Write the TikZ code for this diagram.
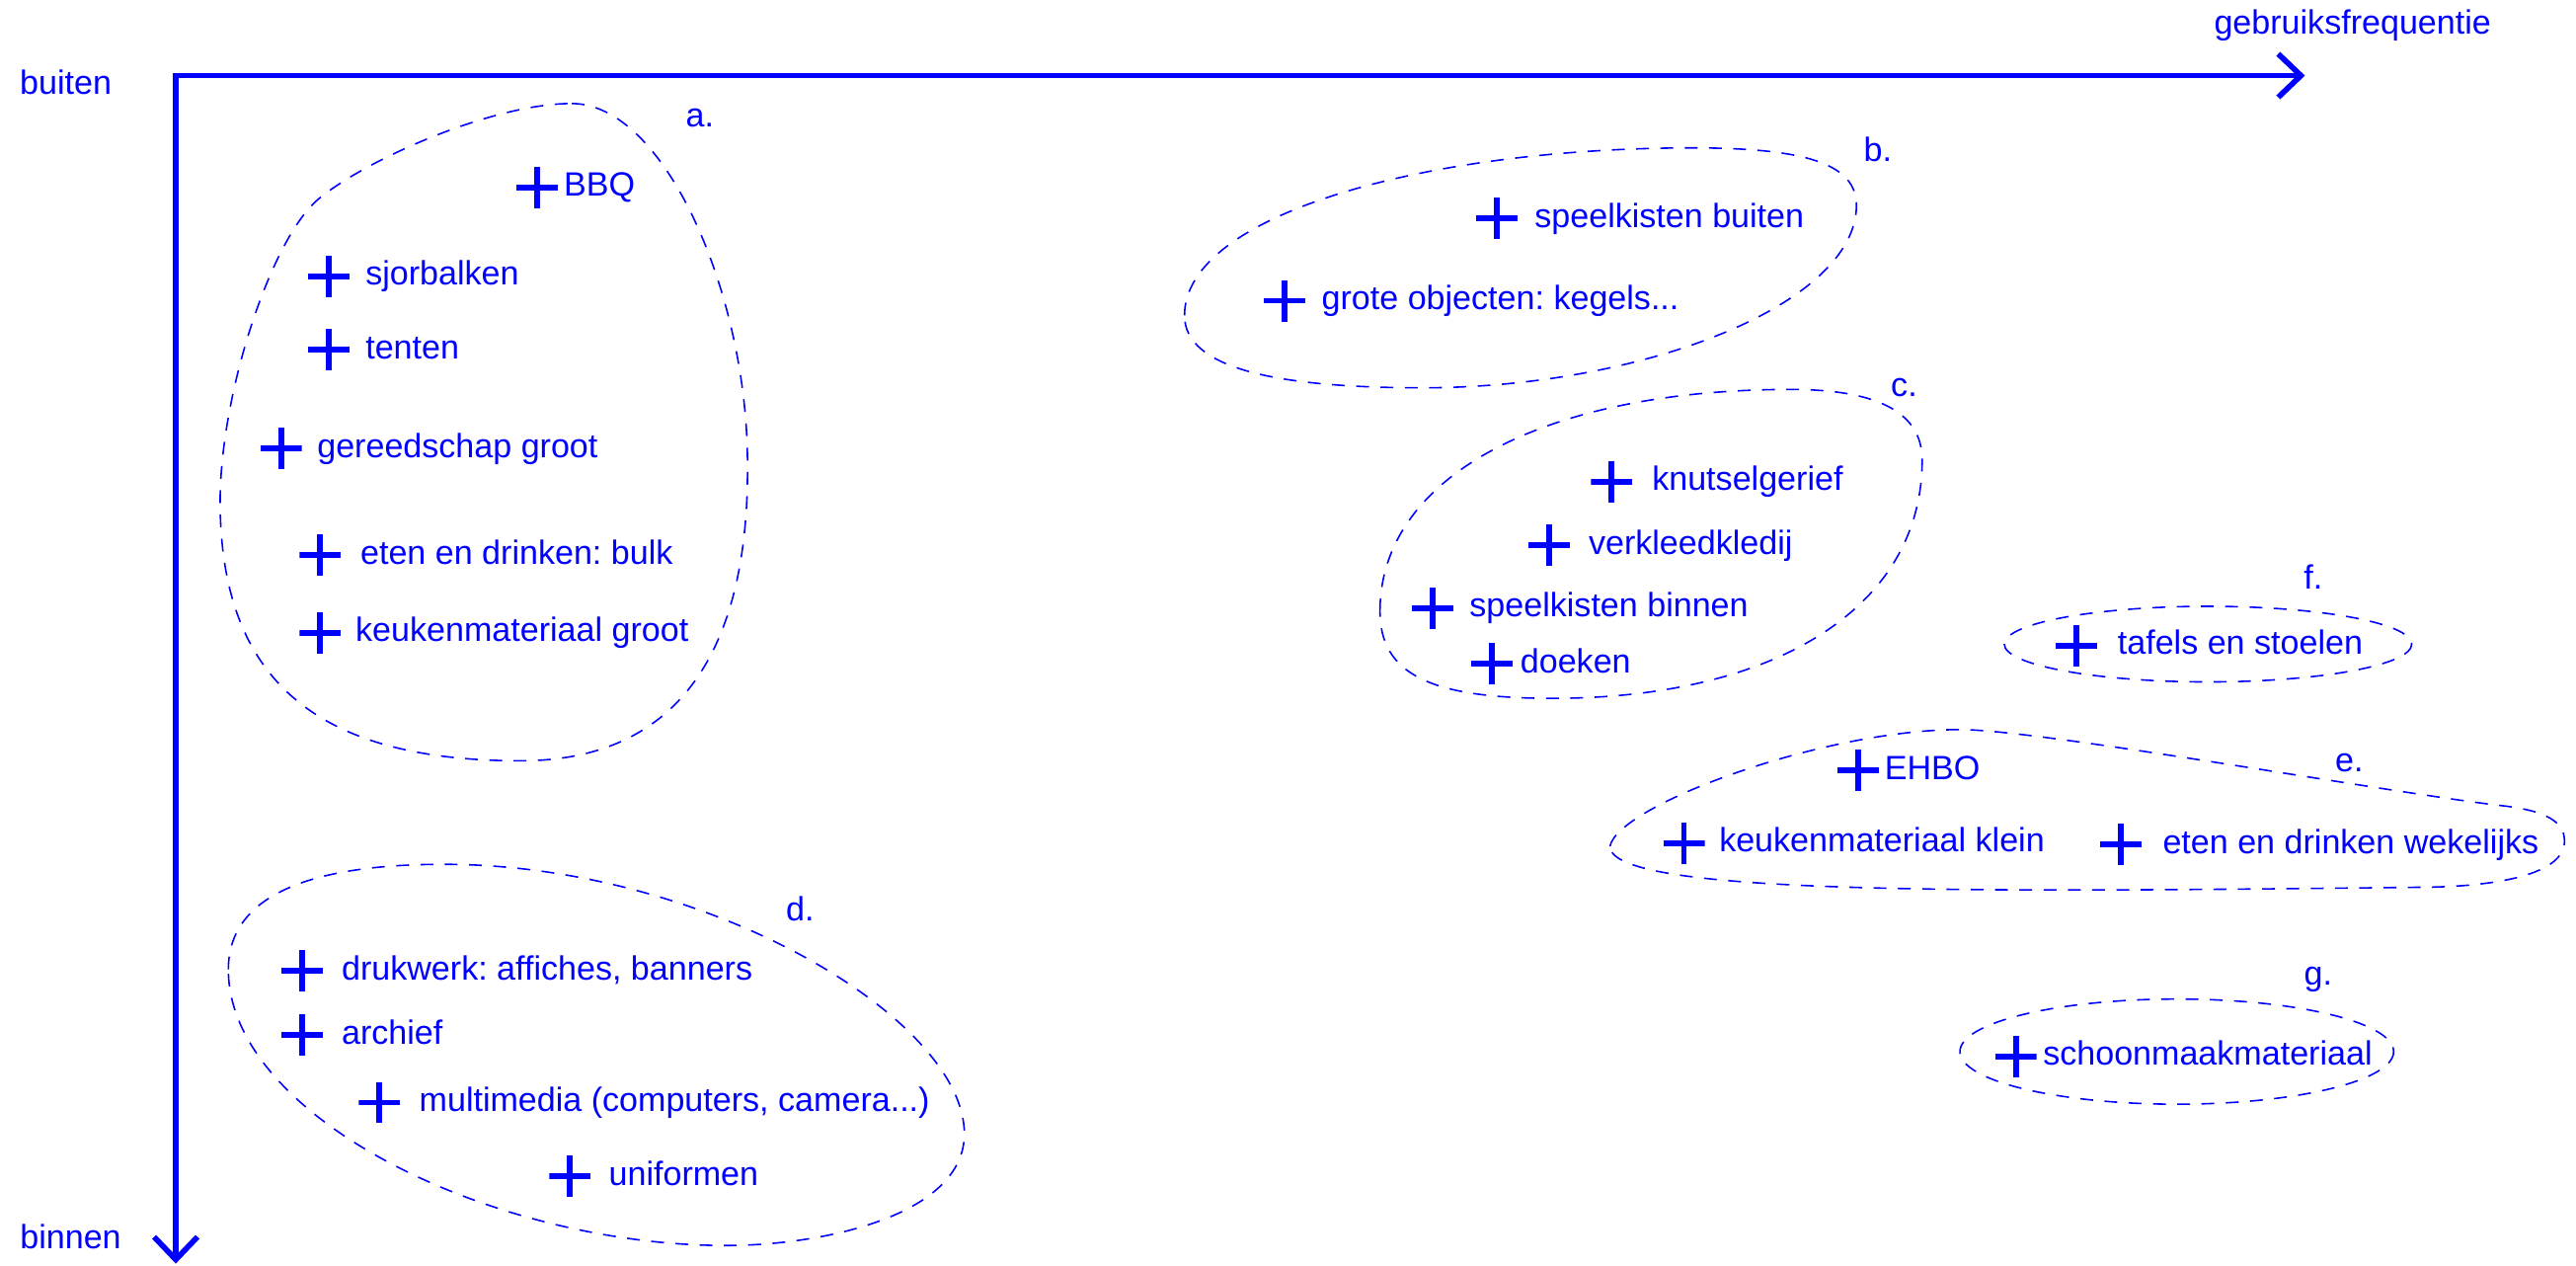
\documentclass[tikz,border=0pt]{standalone}
\usepackage{fontspec}
\setmainfont{Liberation Sans}
\usetikzlibrary{arrows.meta}
\definecolor{inkblue}{RGB}{0,0,255}
\tikzset{
	txt/.style={font=\fontsize{9.7}{11.6}\selectfont\frenchspacing,text=inkblue},
	plus/.style={inner sep=0pt,minimum size=4.2mm,path picture={\draw[inkblue,line width=1.7pt] (path picture bounding box.north) -- (path picture bounding box.south) (path picture bounding box.west) -- (path picture bounding box.east);}},
	item/.style 2 args={plus,label={[txt,inner sep=0pt,text height=0.7em,text depth=0.2em,label distance=#1]right:{#2}}},
	blob/.style={draw=inkblue,line width=0.45pt,dash pattern=on 3.7pt off 3.3pt},
	axisline/.style={draw=inkblue,line width=1.6pt,{Straight Barb[length=2.3mm,width=4.4mm]}-{Straight Barb[length=2.3mm,width=4.4mm]}}
}

\begin{document}
\begin{tikzpicture}[x=0.01664cm,y=-0.01664cm]%[scale=1.5]
	\useasboundingbox (0,0) rectangle (1568,770);
	\coordinate (freq) at (1403,46);
	\coordinate (hoek) at (107,46);
	\coordinate (onder) at (107,769);
	\draw[axisline] (freq) -- (hoek) -- (onder);
	\node[txt,anchor=base] (buiten) at (40,57.5) {buiten};
	\node[txt,anchor=base] (binnen) at (43,760) {binnen};
	\node[txt,anchor=base] (gebruik) at (1432,21) {gebruiksfrequentie};

	% a.
	\draw[blob] (348,63) .. controls (405,63) and (455,180) .. (455,282)
		.. controls (456,400) and (410,463) .. (317,463)
		.. controls (200,463) and (134,420) .. (134,305)
		.. controls (134,240) and (165,145) .. (194,121)
		.. controls (223,97) and (300,63) .. (348,63);
	\node[txt] (ga) at (426,72) {a.};
	\node[item={1.3pt}{BBQ}] (bbq) at (327,114) {};
	\node[item={4.3pt}{sjorbalken}] (sjorbalken) at (200,168) {};
	\node[item={4.3pt}{tenten}] (tenten) at (200,213) {};
	\node[item={4.1pt}{gereedschap groot}] (gereedschap) at (171,273) {};
	\node[item={5.2pt}{eten en drinken: bulk}] (bulk) at (195,338) {};
	\node[item={3.8pt}{keukenmateriaal groot}] (keukengroot) at (195,385) {};

	% b.
	\draw[blob] (721,192) .. controls (721,130) and (870,90) .. (1030,90)
		.. controls (1100,90) and (1130,100) .. (1130,125)
		.. controls (1130,185) and (1000,236) .. (866,236)
		.. controls (780,236) and (721,225) .. (721,192);
	\node[txt] (gb) at (1143,91) {b.};
	\node[item={4.6pt}{speelkisten buiten}] (kistenbuiten) at (911,133) {};
	\node[item={4.3pt}{grote objecten: kegels...}] (objecten) at (782,183) {};

	% c.
	\draw[blob] (840,372) .. controls (840,290) and (940,237) .. (1090,237)
		.. controls (1150,237) and (1170,255) .. (1170,280)
		.. controls (1170,370) and (1080,425) .. (945,425)
		.. controls (870,425) and (840,410) .. (840,372);
	\node[txt] (gc) at (1159,236) {c.};
	\node[item={5.3pt}{knutselgerief}] (knutsel) at (981,293) {};
	\node[item={5pt}{verkleedkledij}] (verkleed) at (943,332) {};
	\node[item={4.3pt}{speelkisten binnen}] (kistenbinnen) at (872,370) {};
	\node[item={1.9pt}{doeken}] (doeken) at (908,404) {};

	% f.
	\draw[blob] (1344,392) ellipse [x radius=124,y radius=23];
	\node[txt] (gf) at (1408,351) {f.};
	\node[item={5.5pt}{tafels en stoelen}] (tafels) at (1264,393) {};

	% e.
	\draw[blob] (980,515) .. controls (985,490) and (1110,444) .. (1193,444)
		.. controls (1240,444) and (1440,480) .. (1520,490)
		.. controls (1550,493) and (1561,500) .. (1561,512)
		.. controls (1561,532) and (1520,540) .. (1470,540)
		.. controls (1200,543) and (980,545) .. (980,515);
	\node[txt] (ge) at (1430,464) {e.};
	\node[item={1.3pt}{EHBO}] (ehbo) at (1131,469) {};
	\node[item={3.8pt}{keukenmateriaal klein}] (keukenklein) at (1025,513) {};
	\node[item={5.7pt}{eten en drinken wekelijks}] (wekelijks) at (1291,514) {};

	% d.
	\draw[blob] (139,590) .. controls (139,540) and (200,526) .. (270,526)
		.. controls (430,526) and (587,620) .. (587,690)
		.. controls (587,740) and (500,758) .. (442,758)
		.. controls (300,758) and (139,680) .. (139,590);
	\node[txt] (gd) at (487,553) {d.};
	\node[item={5pt}{drukwerk: affiches, banners}] (drukwerk) at (184,591) {};
	\node[item={5pt}{archief}] (archief) at (184,630) {};
	\node[item={5.1pt}{multimedia (computers, camera...)}] (multimedia) at (231,671) {};
	\node[item={4.8pt}{uniformen}] (uniformen) at (347,716) {};

	% g.
	\draw[blob] (1325,640) ellipse [x radius=132,y radius=32];
	\node[txt] (gg) at (1411,596) {g.};
	\node[item={1.5pt}{schoonmaakmateriaal}] (schoonmaak) at (1227,643) {};
\end{tikzpicture}
\end{document}
